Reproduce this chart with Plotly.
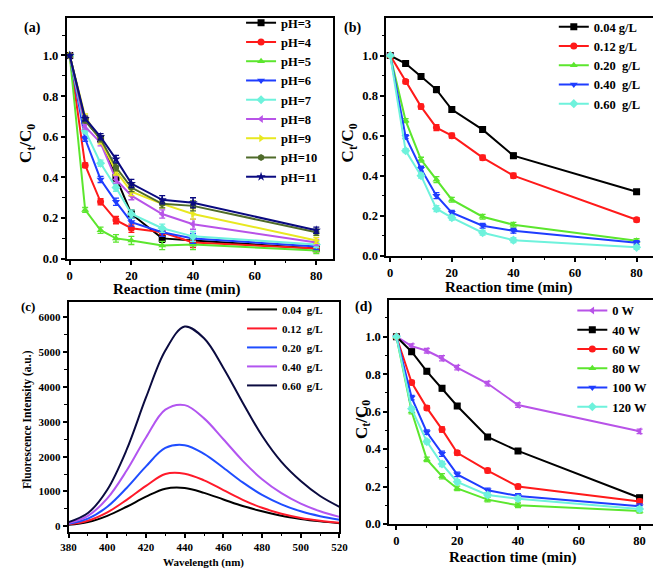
import plotly.graph_objects as go

W, H = 661, 569
SERIF = "Liberation Serif"

# ---------------- Panel (a): effect of pH ----------------
time_a = [0, 5, 10, 15, 20, 30, 40, 80]
ph_names = ["pH=3", "pH=4", "pH=5", "pH=6", "pH=7", "pH=8", "pH=9", "pH=10", "pH=11"]
ph3 = [1.0, 0.68, 0.59, 0.40, 0.22, 0.10, 0.09, 0.05]
ph4 = [1.0, 0.46, 0.28, 0.19, 0.15, 0.13, 0.08, 0.05]
ph5 = [1.0, 0.24, 0.14, 0.10, 0.09, 0.065, 0.07, 0.04]
ph6 = [1.0, 0.59, 0.39, 0.28, 0.18, 0.13, 0.10, 0.06]
ph7 = [1.0, 0.63, 0.47, 0.35, 0.22, 0.15, 0.11, 0.07]
ph8 = [1.0, 0.65, 0.57, 0.39, 0.31, 0.22, 0.17, 0.08]
ph9 = [1.0, 0.70, 0.58, 0.43, 0.33, 0.27, 0.22, 0.09]
ph10 = [1.0, 0.68, 0.59, 0.45, 0.35, 0.27, 0.26, 0.13]
ph11 = [1.0, 0.69, 0.60, 0.49, 0.37, 0.29, 0.275, 0.14]
err_a = [0.0, 0.012, 0.015, 0.018, 0.02, 0.02, 0.025, 0.015]

# ---------------- Panel (b): catalyst dosage ----------------
time_b = [0, 5, 10, 15, 20, 30, 40, 80]
dose_names = ["0.04 g/L", "0.12 g/L", "0.20\u00a0 g/L", "0.40\u00a0 g/L", "0.60\u00a0 g/L"]
dose004 = [1.0, 0.96, 0.895, 0.83, 0.73, 0.63, 0.50, 0.32]
dose012 = [1.0, 0.87, 0.745, 0.64, 0.60, 0.49, 0.40, 0.18]
dose020 = [1.0, 0.675, 0.48, 0.38, 0.28, 0.195, 0.155, 0.075]
dose040 = [1.0, 0.595, 0.435, 0.30, 0.215, 0.15, 0.125, 0.065]
dose060 = [1.0, 0.525, 0.40, 0.235, 0.19, 0.115, 0.078, 0.042]
err_b = [0.0, 0.01, 0.012, 0.015, 0.012, 0.012, 0.012, 0.01]

# ---------------- Panel (c): fluorescence spectra ----------------
wavelength = [380, 390, 400, 410, 420, 430, 440, 450, 460, 470, 480, 490, 500, 510, 520]
fl_names = ["0.04\u00a0 g/L", "0.12\u00a0 g/L", "0.20\u00a0 g/L", "0.40\u00a0 g/L", "0.60\u00a0 g/L"]
fl004 = [40, 120, 300, 560, 850, 1080, 1100, 960, 770, 580, 430, 300, 210, 140, 85]
fl012 = [55, 160, 400, 760, 1160, 1500, 1510, 1320, 1040, 760, 530, 360, 240, 160, 100]
fl020 = [70, 220, 560, 1100, 1720, 2250, 2330, 2080, 1680, 1260, 900, 630, 430, 290, 190]
fl040 = [90, 300, 800, 1600, 2550, 3350, 3480, 3100, 2500, 1880, 1350, 950, 650, 430, 270]
fl060 = [120, 380, 1050, 2200, 3700, 5050, 5740, 5400, 4550, 3550, 2600, 1850, 1300, 870, 560]

# ---------------- Panel (d): light power ----------------
time_d = [0, 5, 10, 15, 20, 30, 40, 80]
power_names = ["0 W", "40 W", "60 W", "80 W", "100 W", "120 W"]
w0 = [1.0, 0.95, 0.925, 0.885, 0.835, 0.75, 0.635, 0.495]
w40 = [1.0, 0.92, 0.815, 0.725, 0.63, 0.465, 0.39, 0.14]
w60 = [1.0, 0.755, 0.62, 0.505, 0.38, 0.285, 0.20, 0.12]
w80 = [1.0, 0.60, 0.345, 0.255, 0.19, 0.13, 0.10, 0.07]
w100 = [1.0, 0.675, 0.49, 0.375, 0.265, 0.18, 0.15, 0.095]
w120 = [1.0, 0.615, 0.44, 0.32, 0.225, 0.155, 0.135, 0.08]
err_d = [0.0, 0.012, 0.012, 0.014, 0.012, 0.012, 0.012, 0.012]

# colours / symbols
BLACK = "#000000"; RED = "#FF1A1A"; GREEN = "#5CE62E"; BLUE = "#1F3DFF"
CYAN = "#6EF2DC"; PURPLE = "#B853E8"; YELLOW = "#E8E820"; OLIVE = "#4F6B2A"; NAVY = "#0A0A80"

fig = go.Figure()


def add_series(x, y, err, name, color, symbol, xa, ya, leg, size=7):
    fig.add_trace(go.Scatter(
        x=x, y=y, name=name, mode="lines+markers",
        line=dict(color=color, width=2),
        marker=dict(symbol=symbol, size=size, color=color),
        error_y=dict(type="data", array=err, color=color, thickness=1.3, width=3),
        xaxis=xa, yaxis=ya, legend=leg))


series_a = [
    (ph3, BLACK, "square"), (ph4, RED, "circle"), (ph5, GREEN, "triangle-up"),
    (ph6, BLUE, "triangle-down"), (ph7, CYAN, "diamond"), (ph8, PURPLE, "triangle-left"),
    (ph9, YELLOW, "triangle-right"), (ph10, OLIVE, "hexagon"), (ph11, NAVY, "star"),
]
for (vals, col, sym), nm in zip(series_a, ph_names):
    add_series(time_a, vals, err_a, nm, col, sym, "x", "y", "legend")

series_b = [
    (dose004, BLACK, "square"), (dose012, RED, "circle"), (dose020, GREEN, "triangle-up"),
    (dose040, BLUE, "triangle-down"), (dose060, CYAN, "diamond"),
]
for (vals, col, sym), nm in zip(series_b, dose_names):
    add_series(time_b, vals, err_b, nm, col, sym, "x2", "y2", "legend2")

series_c = [
    (fl004, "#000000"), (fl012, "#FF1A2A"), (fl020, "#1F4DFF"),
    (fl040, "#B255F0"), (fl060, "#0B0B40"),
]
for (vals, col), nm in zip(series_c, fl_names):
    fig.add_trace(go.Scatter(
        x=wavelength, y=vals, name=nm, mode="lines",
        line=dict(color=col, width=2, shape="spline", smoothing=1.0),
        xaxis="x3", yaxis="y3", legend="legend3"))

series_d = [
    (w0, PURPLE, "triangle-left"), (w40, BLACK, "square"), (w60, RED, "circle"),
    (w80, GREEN, "triangle-up"), (w100, BLUE, "triangle-down"), (w120, CYAN, "diamond"),
]
for (vals, col, sym), nm in zip(series_d, power_names):
    add_series(time_d, vals, err_d, nm, col, sym, "x4", "y4", "legend4")


def dx(p0, p1):
    return [p0 / W, p1 / W]


def dy(top, bottom):
    return [1 - bottom / H, 1 - top / H]


def ax(domain, rng, dtick, minor, anchor, fmt=None, fs=12.5, tick0=0):
    d = dict(domain=domain, range=rng, anchor=anchor, tickmode="linear", tick0=tick0,
             dtick=dtick, showline=True, linecolor="black", linewidth=1.6, mirror=True,
             ticks="outside", ticklen=4, tickwidth=1.5, tickcolor="black",
             showgrid=False, zeroline=False,
             tickfont=dict(family=SERIF, size=fs, color="black", weight="bold"),
             minor=dict(dtick=minor, ticks="outside", ticklen=2.5, tickwidth=1.2,
                        tickcolor="black", showgrid=False))
    if fmt:
        d["tickformat"] = fmt
    return d


legend_common = dict(bgcolor="rgba(0,0,0,0)", borderwidth=0, xanchor="left", yanchor="top",
                     traceorder="normal")

fig.update_layout(
    width=W, height=H, margin=dict(l=0, r=0, t=0, b=0),
    paper_bgcolor="white", plot_bgcolor="white",
    xaxis=ax(dx(52, 325), [-1, 85.3], 20, 10, "y"),
    yaxis=ax(dy(5, 251), [0, 1.185], 0.2, 0.1, "x", ".1f"),
    xaxis2=ax(dx(380, 655), [-1.3, 85.7], 20, 10, "y2"),
    yaxis2=ax(dy(5, 248), [0, 1.188], 0.2, 0.1, "x2", ".1f"),
    xaxis3=ax(dx(54, 332), [380, 520], 20, 10, "y3", fs=11, tick0=380),
    yaxis3=ax(dy(295, 530), [-160, 6450], 1000, 500, "x3", fs=11),
    xaxis4=ax(dx(383, 655), [-2.4, 84.8], 20, 10, "y4"),
    yaxis4=ax(dy(293, 522), [0, 1.197], 0.2, 0.1, "x4", ".1f"),
    legend=dict(legend_common, x=231 / W, y=1 + 5 / H,
                font=dict(family=SERIF, size=12.5, color="black", weight="bold")),
    legend2=dict(legend_common, x=552 / W, y=1 + 1 / H,
                 font=dict(family=SERIF, size=12.5, color="black", weight="bold")),
    legend3=dict(legend_common, x=232 / W, y=1 - 288 / H,
                 font=dict(family=SERIF, size=11, color="black", weight="bold")),
    legend4=dict(legend_common, x=571 / W, y=1 - 289 / H,
                 font=dict(family=SERIF, size=12.5, color="black", weight="bold")),
    showlegend=True,
)


def label(text, xp, yp, size, angle=0, bold=True):
    fig.add_annotation(text=text, x=xp / W, y=1 - yp / H, xref="paper", yref="paper",
                       showarrow=False, textangle=angle, xanchor="center", yanchor="middle",
                       font=dict(family=SERIF, size=size, color="black",
                                 weight="bold" if bold else "normal"))


# axis titles
label("Reaction time (min)", 165, 282, 15)
label("Reaction time (min)", 505, 280, 15)
label("Wavelength (nm)", 192, 561, 11)
label("Reaction time (min)", 510, 556, 15)
label("C<sub>t</sub>/C<sub>0</sub>", 12, 133, 17, -90)
label("C<sub>t</sub>/C<sub>0</sub>", 342, 133, 17, -90)
label("C<sub>t</sub>/C<sub>0</sub>", 356, 415, 17, -90)
label("Fluorescence Intensity (a.u.)", 12, 415, 11.5, -90)

# panel letters
label("(a)", 17, 15, 14)
label("(b)", 345, 15, 14)
label("(c)", 12, 300, 13)
label("(d)", 357, 300, 14)

fig.write_html("out.html")
